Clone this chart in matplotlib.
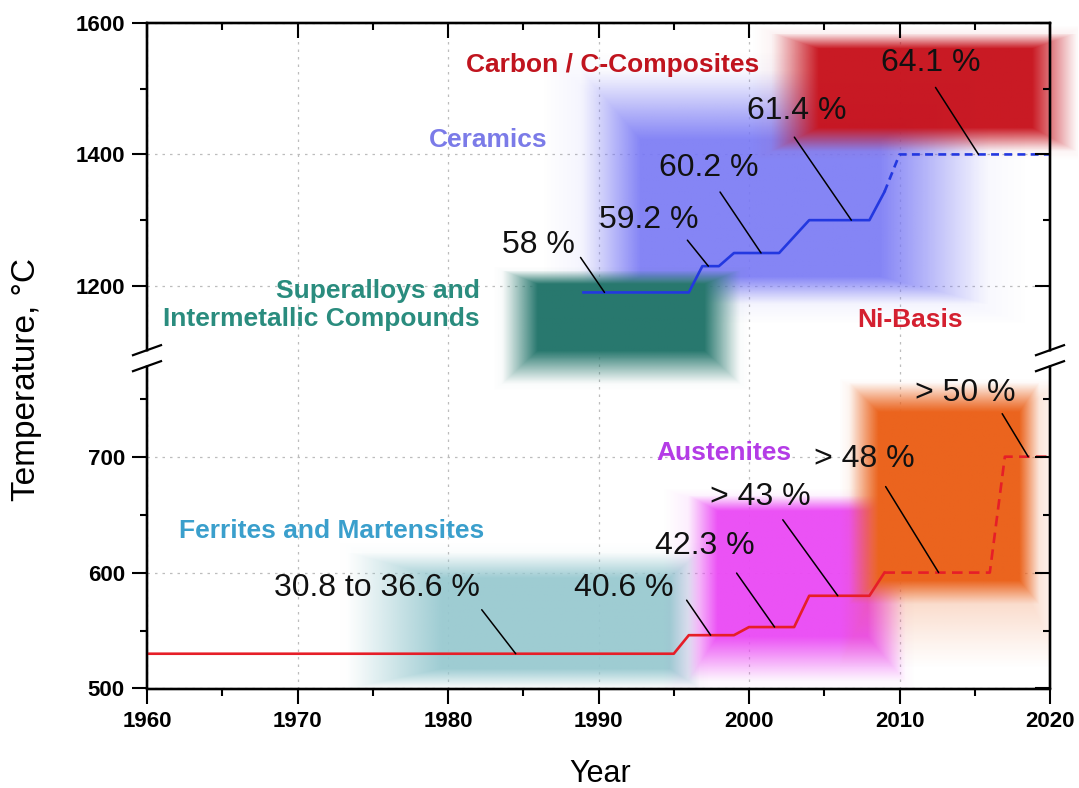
import numpy as np
import matplotlib
matplotlib.use("Agg")
import matplotlib.pyplot as plt
from matplotlib.colors import to_rgb
from matplotlib.lines import Line2D
from matplotlib.ticker import FixedLocator, MultipleLocator

plt.rcParams["font.family"] = ["Liberation Sans", "DejaVu Sans"]

# ---------------------------------------------------------------- data
# steam temperature of steel-based power plants (lower curve)
steel_years = [1960, 1995, 1996, 1999, 2000, 2003, 2004, 2008, 2009]
steel_temps = [530, 530, 546, 546, 553, 553, 580, 580, 600]
steel_future_years = [2009, 2016, 2017, 2020]
steel_future_temps = [600, 600, 700, 700]

# turbine inlet temperature of gas turbines (upper curve)
turbine_years = [1989, 1996, 1996.9, 1998, 1999, 2002, 2004, 2008, 2009]
turbine_temps = [1190, 1190, 1230, 1230, 1250, 1250, 1300, 1300, 1343]
turbine_future_years = [2009, 2010, 2020]
turbine_future_temps = [1343, 1400, 1400]

# efficiency callouts: label, and the point of the curve it refers to
eff_labels = ["58 %", "59.2 %", "60.2 %", "61.4 %", "64.1 %",
              "30.8 to 36.6 %", "40.6 %", "42.3 %", "> 43 %", "> 48 %", "> 50 %"]
eff_years = [1990.4, 1997.3, 2000.8, 2006.8, 2015.25,
             1984.5, 1997.45, 2001.7, 2005.9, 2012.6, 2018.55]
eff_temps = [1190, 1230, 1250, 1300, 1400, 530, 546, 553, 580, 600, 700]

# material classes and their application windows
material_names = ["Carbon / C-Composites", "Ceramics",
                  "Superalloys and\nIntermetallic Compounds", "Ni-Basis",
                  "Ferrites and Martensites", "Austenites"]
region_year_lo = [2001.4, 1988.8, 1983.5, 2006.6, 1973.2, 1995.9]
region_year_hi = [2021.8, 2016.0, 1999.4, 2019.3, 1996.7, 2010.4]
region_temp_lo = [1404, 1171, 762, 572, 499, 506]
region_temp_hi = [1585, 1528, 1224, 764, 617, 667]

x_ticks = [1960, 1970, 1980, 1990, 2000, 2010, 2020]
y_ticks = [500, 600, 700, 1200, 1400, 1600]
y_minor = [550, 650, 750, 1300, 1500]

# ---------------------------------------------------------------- styling
region_colors = ["#C8141E", "#7878F5", "#28786E", "#EB641E", "#96C8CF", "#EB4BF5"]
region_alpha = [0.97, 0.88, 1.0, 1.0, 0.9, 0.95]
# fade widths in pixels: left, right, bottom, top
region_fade_px = [(48, 45, 24, 16), (60, 110, 28, 70), (36, 36, 34, 14),
                  (30, 20, 24, 30), (95, 30, 20, 26), (30, 38, 45, 16)]
# faint halo around each window: extra size (l, r, b, t) and opacity
region_glow = [((20, 10, 10, 8), 0.18), ((40, 40, 20, 20), 0.22), ((10, 10, 8, 4), 0.15),
               ((10, 25, 65, 4), 0.32), ((10, 10, 4, 10), 0.2), ((25, 10, 18, 6), 0.22)]
region_clip = [False, True, True, True, True, True]
draw_order = [1, 2, 0, 4, 5, 3]

label_colors = ["#C0141E", "#7B7BE8", "#2A8C7E", "#D42030", "#3A9FCC", "#B43CE6"]
label_pos = [(1990.96, 1536), (1982.66, 1422), (1982.13, 1170.6),
             (2010.7, 1148), (1972.29, 636), (1998.31, 703)]
label_ha = ["center", "center", "right", "center", "center", "center"]

# callout layout: text centre and leader start, pixels from the curve point
eff_text_off = [(-66, -47), (-60, -46), (-52, -85), (-55, -109), (-48, -91),
                (-139, -66), (-87, -47), (-70, -81), (-77, -99), (-74, -114), (-63, -64)]
eff_lead_off = [(-24, -35), (-21, -26), (-41, -61), (-57, -83), (-43, -67),
                (-34, -44), (-24, -35), (-38, -54), (-55, -76), (-53, -86), (-26, -43)]

# broken temperature axis: 785..1090 is collapsed, upper part compressed
T_LOW, T_HIGH = 785.0, 1090.0
UPPER_RATIO = 0.567
GAP = 0.01


def fwd(t):
    t = np.asarray(t, dtype=float)
    return np.where(t <= T_LOW, t,
                    np.where(t >= T_HIGH, T_LOW + GAP + (t - T_HIGH) * UPPER_RATIO,
                             T_LOW + (t - T_LOW) * GAP / (T_HIGH - T_LOW)))


def inv(s):
    s = np.asarray(s, dtype=float)
    return np.where(s <= T_LOW, s,
                    np.where(s >= T_LOW + GAP, T_HIGH + (s - T_LOW - GAP) / UPPER_RATIO,
                             T_LOW + (s - T_LOW) * (T_HIGH - T_LOW) / GAP))


W, H = 1079, 788
fig = plt.figure(figsize=(W / 100, H / 100), dpi=100)
ax = fig.add_axes([147 / W, 1 - 688.5 / H, 903 / W, 665.5 / H])
ax.set_yscale("function", functions=(fwd, inv))
ax.set_xlim(1960, 2020)
ax.set_ylim(500, 1600)


def soft_region(x0, x1, y0, y1, fade, grow, color, amax, clip, z):
    """Rectangle with linearly feathered, mitred edges (sizes in pixels)."""
    to_disp = ax.transData.transform
    to_data = ax.transData.inverted().transform
    gl, gr, gb, gt = grow
    (dx0, dy0), (dx1, dy1) = to_disp([(x0, y0), (x1, y1)])
    dx0, dx1, dy0, dy1 = dx0 - gl, dx1 + gr, dy0 - gb, dy1 + gt
    (x0, y0), (x1, y1) = to_data([(dx0, dy0), (dx1, dy1)])
    nx, ny = 420, 900
    xs = np.linspace(x0, x1, nx)
    ys = np.linspace(y0, y1, ny)
    px = to_disp(np.column_stack([xs, np.full(nx, y1)]))[:, 0]
    py = to_disp(np.column_stack([np.full(ny, x0), ys]))[:, 1]
    fl, fr, fb, ft = (fade[0] + gl, fade[1] + gr, fade[2] + gb, fade[3] + gt)
    ddx = np.minimum((px - px[0]) / fl, (px[-1] - px) / fr)[None, :]
    ddy = np.minimum((py - py[0]) / fb, (py[-1] - py) / ft)[:, None]
    a = np.clip(np.minimum(ddx, ddy), 0, 1) ** 1.15
    rgba = np.zeros((ny, nx, 4))
    rgba[..., :3] = to_rgb(color)
    rgba[..., 3] = a * amax
    ax.imshow(rgba, extent=(x0, x1, y0, y1), origin="lower", aspect="auto",
              interpolation="bilinear", zorder=z, clip_on=clip)


for k, i in enumerate(draw_order):
    box = (region_year_lo[i], region_year_hi[i], region_temp_lo[i], region_temp_hi[i])
    grow, galpha = region_glow[i]
    soft_region(*box, region_fade_px[i], grow, region_colors[i], galpha,
                region_clip[i], 1 + 0.02 * k)
    soft_region(*box, region_fade_px[i], (0, 0, 0, 0), region_colors[i], region_alpha[i],
                region_clip[i], 1.01 + 0.02 * k)

ax.set_xlim(1960, 2020)
ax.set_ylim(500, 1600)

# curves
red, blue = "#E61E28", "#2338E0"
ax.plot(steel_years, steel_temps, color=red, lw=1.9, zorder=3)
ax.plot(steel_future_years, steel_future_temps, color=red, lw=1.9, zorder=3,
        dashes=(4.0, 2.4))
ax.plot(turbine_years, turbine_temps, color=blue, lw=1.9, zorder=3)
ax.plot(turbine_future_years, turbine_future_temps, color=blue, lw=1.9, zorder=3,
        dashes=(3.0, 2.0))

# efficiency callouts
for lab, yr, tp, (tx, ty), (lx, ly) in zip(eff_labels, eff_years, eff_temps,
                                           eff_text_off, eff_lead_off):
    ax.annotate("", xy=(yr, tp), xytext=(lx * 0.72, -ly * 0.72), textcoords="offset points",
                arrowprops=dict(arrowstyle="-", color="black", lw=1.1, shrinkA=0, shrinkB=0),
                zorder=4)
    ax.annotate(lab, xy=(yr, tp), xytext=(tx * 0.72, -ty * 0.72), textcoords="offset points",
                ha="center", va="center", fontsize=23, color="#111111", zorder=5)

# material class labels
for name, (lx, ly), c, ha in zip(material_names, label_pos, label_colors, label_ha):
    ax.text(lx, ly, name, color=c, fontsize=19, fontweight="bold", ha=ha, va="center",
            multialignment="right", linespacing=1.2, zorder=5)

# axes, ticks, grid
ax.set_xticks(x_ticks, labels=[str(v) for v in x_ticks], fontsize=16, fontweight="bold")
ax.set_yticks(y_ticks, labels=[str(v) for v in y_ticks], fontsize=16, fontweight="bold")
ax.xaxis.set_minor_locator(MultipleLocator(5))
ax.yaxis.set_minor_locator(FixedLocator(y_minor))
ax.set_axisbelow(True)
ax.grid(True, which="major", color="#BDBDBD", linestyle=(0, (2, 4)), lw=0.9)
ax.tick_params(which="major", direction="out", length=11, width=1.5)
ax.tick_params(axis="x", which="major", pad=5.5)
ax.tick_params(axis="y", which="major", pad=5)
ax.tick_params(which="minor", direction="out", length=5, width=1.5)

axr = ax.twinx()
axr.set_yscale("function", functions=(fwd, inv))
axr.set_ylim(500, 1600)
axr.yaxis.set_major_locator(FixedLocator(y_ticks))
axr.yaxis.set_minor_locator(FixedLocator(y_minor))
axr.tick_params(which="major", direction="in", length=11, width=1.5, labelright=False)
axr.tick_params(which="minor", direction="in", length=5, width=1.5)

axt = ax.twiny()
axt.set_xlim(1960, 2020)
axt.xaxis.set_major_locator(FixedLocator(x_ticks))
axt.xaxis.set_minor_locator(MultipleLocator(5))
axt.tick_params(which="major", direction="in", length=11, width=1.5, labeltop=False)
axt.tick_params(which="minor", direction="in", length=5, width=1.5)

for a in (ax, axr, axt):
    for s in a.spines.values():
        s.set_linewidth(1.6)

ax.set_ylabel("Temperature, °C", fontsize=24)
ax.yaxis.label.set_va("center")
ax.yaxis.set_label_coords(-0.1329, 0.465)
ax.set_xlabel("Year", fontsize=22)
ax.xaxis.label.set_va("center")
ax.xaxis.set_label_coords(0.5017, -0.1285)

# axis break marks
yb = ax.transAxes.inverted().transform(ax.transData.transform((1990, T_LOW)))[1]
axw, axh = 903.0, 665.5
for xs in (0.0, 1.0):
    fig.add_artist(Line2D([xs, xs], [yb - 7 / axh, yb + 7 / axh], color="white", lw=5,
                          transform=ax.transAxes, solid_capstyle="butt"))
    for c in (-8, 8):
        fig.add_artist(Line2D([xs - 14 / axw, xs + 14 / axw],
                              [yb + (c - 5) / axh, yb + (c + 5) / axh],
                              color="black", lw=1.6, transform=ax.transAxes))

fig.savefig("out.png", dpi=100)
